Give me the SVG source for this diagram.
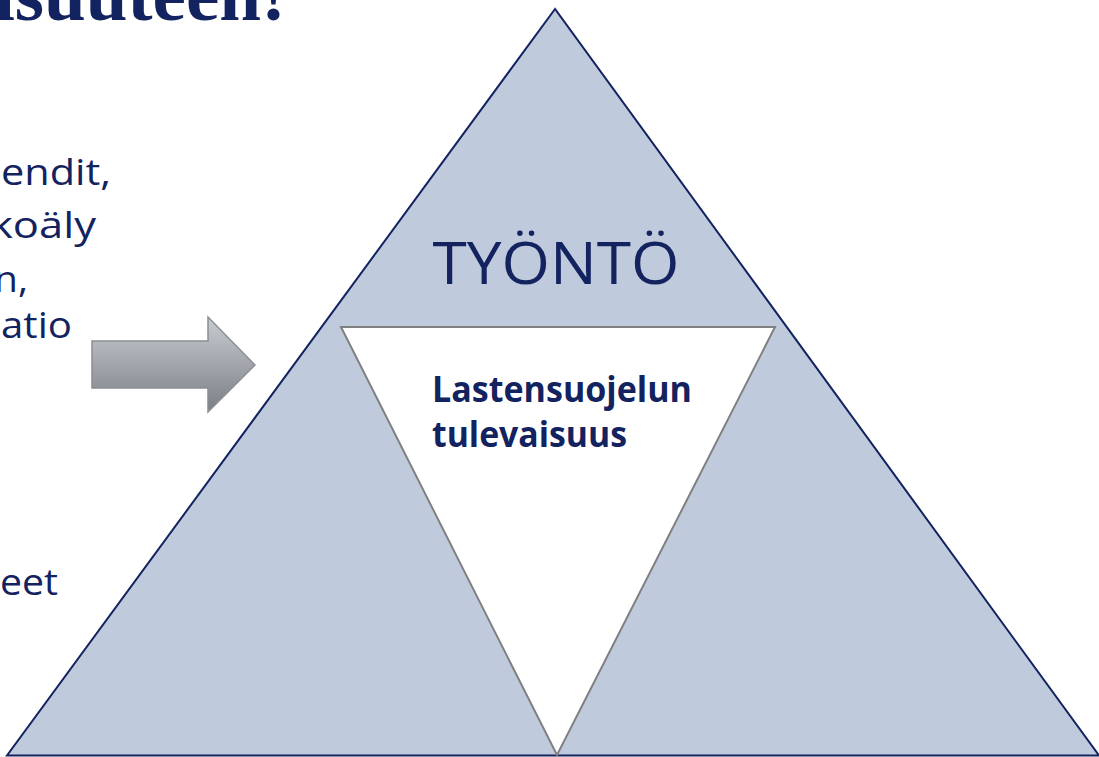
<svg xmlns="http://www.w3.org/2000/svg" width="1099" height="757" viewBox="0 0 1099 757">
<defs>
<linearGradient id="arrowGrad" x1="0" y1="0" x2="0" y2="1">
<stop offset="0" stop-color="#c9ccd1"/>
<stop offset="1" stop-color="#7b7e85"/>
</linearGradient>
<style>
.side{font-family:"Open Sans","Noto Sans",sans-serif;font-size:37px;fill:#13235f}
.title{font-family:"Liberation Serif",serif;font-weight:bold;font-size:74px;fill:#13235f}
.center{font-family:"Open Sans","Noto Sans",sans-serif;font-weight:bold;font-size:36px;fill:#13235f}
</style>
</defs>
<rect width="1099" height="757" fill="#ffffff"/>
<g id="title">
<text class="title" x="-6" y="20" textLength="292" lengthAdjust="spacingAndGlyphs">isuuteen!</text>
</g>
<g id="side-text">
<text class="side" x="1" y="185" textLength="110" lengthAdjust="spacingAndGlyphs">endit,</text>
<text class="side" x="-10" y="238" textLength="106" lengthAdjust="spacingAndGlyphs">koäly</text>
<text class="side" x="-6" y="292" textLength="34" lengthAdjust="spacingAndGlyphs">n,</text>
<text class="side" x="1" y="338" textLength="71" lengthAdjust="spacingAndGlyphs">atio</text>
<text class="side" x="0" y="595" textLength="58" lengthAdjust="spacingAndGlyphs">eet</text>
</g>
<g id="connectors">
<g id="arrow">
<polygon points="92,341 208,341 208,317 255,365 208,412 208,388 92,388" fill="url(#arrowGrad)" stroke="#8b8e93" stroke-width="1.5"/>
</g>
</g>
<g id="outer-triangle">
<polygon points="555,9 7,755.5 1099,755.5" fill="#bfcadc" stroke="#13235f" stroke-width="2" stroke-linejoin="miter"/>
<text x="556" y="284" text-anchor="middle" font-family="'Open Sans','Noto Sans',sans-serif" font-size="58" fill="#13235f" textLength="247" lengthAdjust="spacingAndGlyphs">TYÖNTÖ</text>
</g>
<g id="inner-triangle">
<polygon points="341,327 775,327 557,755" fill="#ffffff" stroke="#808080" stroke-width="2"/>
<text class="center" x="432" y="402" textLength="260" lengthAdjust="spacingAndGlyphs">Lastensuojelun</text>
<text class="center" x="432" y="447" textLength="195" lengthAdjust="spacingAndGlyphs">tulevaisuus</text>
</g>
</svg>
